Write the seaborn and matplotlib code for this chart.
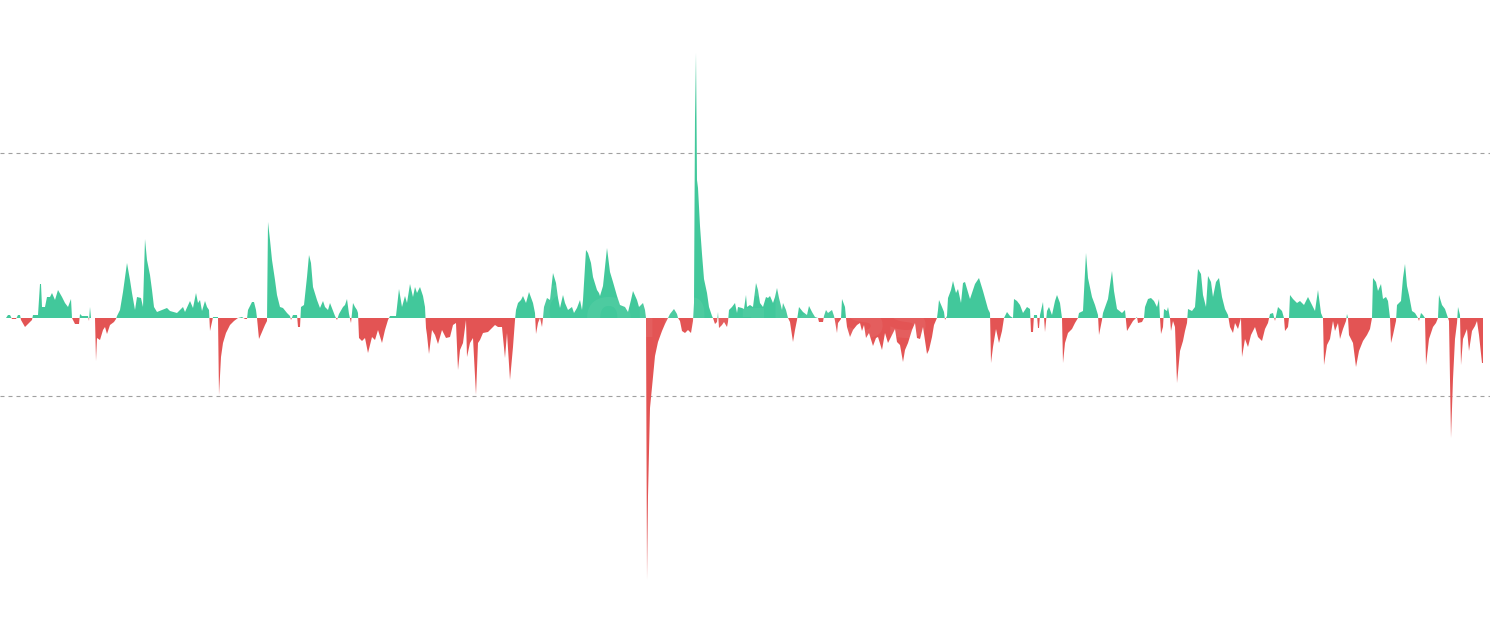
import numpy as np
import pandas as pd
import matplotlib
matplotlib.use("Agg")
import matplotlib.pyplot as plt
import seaborn as sns

# ============================================================
# DATA (rate in units of 0.001 %)
# ============================================================

day = [
    6, 8, 10, 12, 16, 18, 20, 21, 25, 29, 32, 33, 38, 40, 41, 42, 45, 47, 50, 52,
    55, 58, 62, 65, 68, 71, 72, 73, 75, 79, 80, 82, 86, 88, 89, 90, 91, 95, 96, 97,
    100, 103, 105, 107, 110, 114, 116, 117, 120, 123, 127, 130, 132, 135, 137, 141, 143, 145, 147, 150,
    152, 154, 157, 162, 167, 170, 177, 183, 185, 190, 193, 196, 198, 200, 202, 205, 207, 209, 210, 212,
    213, 218, 219, 221, 223, 226, 230, 234, 238, 242, 245, 247, 248, 252, 254, 256, 257, 259, 262, 265,
    267, 268, 270, 272, 275, 277, 280, 283, 287, 290, 291, 293, 297, 298, 300, 301, 304, 307, 309, 311,
    313, 317, 320, 323, 325, 328, 330, 335, 337, 339, 343, 345, 347, 349, 351, 353, 355, 357, 358, 359,
    362, 365, 368, 372, 375, 378, 382, 385, 388, 390, 396, 397, 399, 402, 405, 407, 410, 413, 415, 417,
    420, 423, 425, 426, 427, 429, 432, 435, 438, 442, 446, 450, 453, 456, 458, 460, 463, 466, 467, 470,
    473, 476, 478, 480, 483, 488, 492, 495, 498, 502, 505, 507, 510, 513, 515, 516, 518, 521, 523, 526,
    529, 533, 535, 536, 538, 540, 542, 543, 544, 547, 550, 553, 556, 558, 560, 563, 565, 568, 572, 574,
    577, 580, 582, 583, 586, 588, 591, 593, 597, 599, 600, 603, 607, 610, 613, 617, 620, 625, 628, 631,
    633, 637, 639, 643, 645, 646, 647, 648, 650, 653, 655, 658, 662, 665, 668, 670, 674, 677, 678, 680,
    682, 685, 688, 691, 693, 694, 695, 696, 697, 698, 700, 702, 704, 707, 709, 712, 713, 715, 717, 718,
    719, 722, 724, 727, 728, 729, 732, 735, 737, 738, 742, 744, 746, 747, 750, 753, 756, 758, 760, 763,
    766, 768, 770, 773, 775, 777, 779, 782, 783, 786, 788, 790, 793, 795, 797, 799, 803, 807, 809, 812,
    815, 818, 819, 823, 824, 826, 828, 832, 834, 835, 837, 838, 841, 842, 845, 846, 847, 850, 853, 857,
    860, 862, 864, 866, 869, 873, 876, 878, 882, 885, 888, 892, 895, 897, 900, 903, 905, 908, 912, 915,
    917, 920, 923, 927, 929, 932, 934, 937, 938, 939, 942, 944, 945, 947, 948, 951, 953, 956, 958, 961,
    963, 965, 970, 975, 979, 983, 988, 990, 991, 993, 996, 999, 1002, 1004, 1007, 1010, 1013, 1014, 1017, 1020,
    1023, 1027, 1030, 1031, 1033, 1034, 1037, 1038, 1039, 1040, 1043, 1045, 1047, 1049, 1052, 1055, 1057, 1060, 1062, 1063,
    1065, 1068, 1072, 1075, 1078, 1079, 1083, 1086, 1088, 1092, 1095, 1098, 1099, 1102, 1103, 1108, 1112, 1114, 1117, 1122,
    1125, 1127, 1130, 1133, 1137, 1138, 1142, 1144, 1145, 1148, 1151, 1154, 1157, 1159, 1160, 1161, 1163, 1164, 1167, 1168,
    1170, 1171, 1173, 1175, 1177, 1180, 1183, 1185, 1187, 1188, 1192, 1195, 1198, 1201, 1203, 1206, 1208, 1211, 1213, 1216,
    1219, 1222, 1225, 1228, 1230, 1233, 1235, 1238, 1241, 1242, 1245, 1248, 1251, 1255, 1258, 1262, 1265, 1268, 1270, 1273,
    1275, 1278, 1282, 1284, 1285, 1288, 1289, 1290, 1293, 1297, 1300, 1304, 1308, 1312, 1315, 1318, 1321, 1323, 1324, 1327,
    1330, 1333, 1335, 1338, 1340, 1343, 1346, 1347, 1348, 1349, 1353, 1356, 1359, 1363, 1367, 1370, 1372, 1373, 1376, 1378,
    1381, 1383, 1386, 1388, 1390, 1391, 1393, 1396, 1397, 1401, 1403, 1405, 1407, 1409, 1412, 1415, 1418, 1419, 1421, 1423,
    1425, 1426, 1429, 1433, 1436, 1438, 1439, 1442, 1445, 1447, 1449, 1451, 1453, 1455, 1457, 1458, 1460, 1461, 1463, 1467,
    1469, 1472, 1475, 1477, 1479, 1482, 1483,
]

rate = [
    0, 3, 3, -1, -1, 3, 3, -2, -9, -5, -2, 3, 3, 34, 34, 11, 11, 21, 21, 25,
    18, 28, 21, 15, 11, 19, 0, -2, -6, -6, 4, 2, 2, 2, -3, 11, 0, 0, -43, -20,
    -22, -12, -9, -16, -7, -4, -1, 2, 8, 26, 55, 38, 25, 8, 21, 20, 11, 79, 58, 43,
    28, 11, 6, 8, 10, 7, 5, 11, 6, 17, 10, 25, 15, 18, 7, 17, 11, 8, -13, -4,
    1, 1, -77, -39, -25, -15, -7, -3, 0, 1, -1, -1, 8, 16, 16, 8, 0, -21, -14, -7,
    -3, 96, 78, 58, 38, 23, 11, 10, 5, 2, -2, 3, 3, -9, -9, 11, 13, 41, 63, 55,
    31, 18, 10, 17, 11, 8, 15, 2, -2, 4, 11, 13, 19, 4, -5, 15, 11, 8, 5, -20,
    -23, -20, -35, -19, -22, -12, -25, -12, -2, 2, 2, 11, 29, 11, 22, 15, 34, 21, 31, 25,
    31, 22, 11, -10, -17, -36, -12, -17, -26, -12, -20, -19, -7, -5, -52, -32, -25, -2, -39, -25,
    -20, -77, -25, -22, -15, -14, -10, -7, -9, -9, -40, -15, -62, -29, -2, 8, 15, 18, 22, 15,
    26, 15, 5, -16, -5, 0, -9, 0, 11, 20, 18, 45, 35, 20, 10, 23, 15, 8, 11, 5,
    10, 18, 8, 18, 68, 65, 55, 41, 28, 25, 22, 32, 70, 46, 36, 22, 13, 11, 6, 18,
    27, 18, 11, 15, 8, 0, -262, -178, -90, -59, -38, -24, -13, -6, 0, 4, 9, 4, 0, -3,
    -13, -15, -12, -15, -3, 15, 200, 265, 138, 130, 92, 64, 39, 25, 11, 2, 0, -6, -4, 6,
    -10, -7, -4, -9, -4, 8, 11, 15, 5, 11, 10, 9, 23, 11, 13, 11, 35, 28, 15, 11,
    21, 20, 22, 15, 21, 30, 20, 8, 15, 8, 0, -4, -24, -12, -2, 11, 6, 3, 12, 6,
    1, 0, -4, -4, 2, 8, 5, 8, 2, -3, -15, -5, -1, 19, 11, 0, -9, -19, -12, -7,
    -5, -13, -7, -20, -15, -28, -20, -19, -32, -15, -25, -17, -11, -24, -27, -44, -32, -25, -12, -5,
    -20, -21, -9, -36, -32, -19, -7, 0, 8, 18, 11, 6, -2, 2, 20, 28, 37, 25, 29, 15,
    35, 36, 19, 34, 40, 27, 9, 5, -45, -29, -11, -25, -13, 0, 6, 2, 0, 19, 17, 13,
    5, 11, 9, -14, -14, 3, 3, -10, -10, 3, 16, -14, 7, 11, 3, 17, 23, 15, 0, -45,
    -25, -15, -11, -5, 0, 5, 7, 65, 40, 21, 13, 3, -17, -2, 5, 19, 47, 27, 9, 5,
    8, -13, -8, -3, 1, -5, -4, 0, 11, 19, 20, 17, 11, 19, 0, -16, -9, 9, 7, 11,
    0, -13, -3, -9, -65, -33, -23, -13, -5, 9, 7, 11, 49, 44, 23, 11, 42, 36, 21, 36,
    40, 21, 9, 3, -9, -15, -5, -11, 0, -39, -21, -29, -17, -9, -19, -23, -11, -5, 4, 5,
    -3, 11, 7, 0, -13, -9, 0, 23, 19, 15, 17, 13, 21, 13, 7, 28, 5, 0, -47, -27,
    -21, -3, -13, -5, -21, -11, -3, 4, 0, -17, -25, -49, -33, -23, -17, -11, 0, 40, 36, 27,
    34, 19, 21, 17, 0, -25, -17, -3, 13, 17, 40, 54, 32, 23, 7, 5, 0, -3, 5, 3,
    0, -47, -21, -9, -5, 0, 23, 13, 9, 3, -3, -120, -61, -21, -5, 11, 3, -47, -21, -11,
    -33, -13, -8, -3, -17, -45, -45,
]

# dashed reference levels
grid_levels = [165, -78]

green = "#42c89b"
red = "#e35454"

df = pd.DataFrame({"day": day, "rate": rate})

# ============================================================
# PLOT
# ============================================================

sns.set_theme(style="white")
plt.rcParams["font.family"] = ["DejaVu Sans"]

fig = plt.figure(figsize=(14.9, 6.33), dpi=100)
ax = fig.add_axes([0, 0, 1, 1])

x = df["day"].to_numpy()
y = df["rate"].to_numpy()

ax.fill_between(x, y, 0, where=y >= 0, interpolate=True, color=green, lw=0)
ax.fill_between(x, y, 0, where=y <= 0, interpolate=True, color=red, lw=0)

for lvl in grid_levels:
    ax.axhline(lvl, color="#a0a0a0", lw=0.8, ls=(0, (3.6, 3.6)), zorder=0)

# faint watermark
ax.text(730, 0, "CoinGlass", color="white", alpha=0.06,
        fontsize=52, fontweight="bold", ha="center", va="center")

ax.set_xlim(0, 1490)
ax.set_ylim(-315, 318)
ax.set_xticks([])
ax.set_yticks([])
sns.despine(ax=ax, left=True, bottom=True)

fig.savefig("out.png", dpi=100, facecolor="white")
